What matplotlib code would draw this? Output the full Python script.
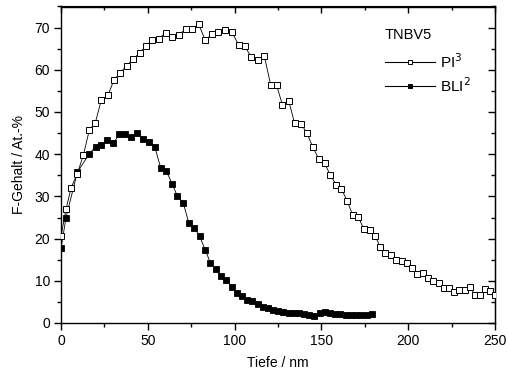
import matplotlib
matplotlib.use("Agg")
import matplotlib.pyplot as plt
from matplotlib.ticker import MultipleLocator
from matplotlib.lines import Line2D

plt.rcParams['font.family'] = ['Liberation Sans', 'DejaVu Sans']

# PI^3 series (open squares)
pi_x = [0, 2.9, 5.8, 9.4, 12.9, 16.3, 19.8, 23.2, 27.1, 30.5, 34.2, 37.8, 41.7, 45.3, 49, 52.6,
        56.3, 60.3, 64.1, 68, 71.8, 75.5, 79.3, 83.1, 86.8, 90.6, 94.5, 98.5, 102.3, 105.8, 109.5,
        113.3, 117.1, 120.8, 124.2, 127.5, 131.2, 134.6, 138.2, 141.7, 145, 148.5, 151.8, 155.1,
        158.5, 161.5, 164.9, 168, 171.3, 174.5, 177.8, 180.9, 183.8, 186.8, 190.2, 193.2, 196.2,
        199.1, 202.3, 205.2, 208.3, 211.5, 214.4, 217.5, 220.6, 223.5, 226.6, 229.4, 232.7, 235.6,
        238.5, 241.4, 244.4, 247.1, 250]
pi_y = [20.6, 27, 32, 35.4, 39.8, 45.7, 47.5, 52.8, 54, 57.6, 59.3, 61, 62.6, 64, 65.7, 67.1,
        67.4, 68.8, 67.8, 68.3, 69.7, 69.7, 70.8, 67, 68.4, 68.9, 69.5, 68.9, 65.9, 65.6, 63.1,
        62.3, 63.3, 56.4, 56.4, 51.7, 52.6, 47.3, 47.2, 45, 41.7, 38.9, 37.9, 35.1,
        32.8, 31.8, 28.9, 25.6, 25.1, 22.2, 22, 20.7, 18.1, 16.5, 16.1, 15, 14.8,
        14.2, 13, 11.5, 11.8, 10.6, 10, 9.4, 8.4, 8.2, 7.4, 7.8, 7.8, 8.6,
        6.6, 6.6, 8, 7.6, 6.6]

# BLI^2 series (filled squares)
bli_x = [0, 2.9, 9.4, 16.1, 20, 23.2, 26.7, 30.1, 33.6, 37, 40.5, 43.8, 47, 50.5, 54, 57.4,
         60.7, 64.1, 67, 70.4, 73.7, 76.8, 79.9, 83.1, 86, 89.3, 92.3, 95.2, 98.3, 101.4, 104.3,
         107.3, 110.2, 113.3, 116.1, 119, 122.1, 125.2, 128, 131.1, 134, 137.1, 140, 143, 146,
         149, 152, 155, 158, 161, 164, 167, 170, 173, 176, 179]
bli_y = [17.7, 25, 35.7, 40, 41.8, 42.2, 43.4, 42.6, 44.7, 44.9, 44, 45.1, 43.5, 42.9, 41.8, 36.8,
         36, 32.9, 30.1, 28.5, 23.6, 22.6, 20.5, 17.3, 14.3, 12.7, 11.1, 10.3, 8.6, 7.2, 6.4,
         5.5, 5.1, 4.4, 3.9, 3.5, 3.1, 2.9, 2.7, 2.4, 2.4, 2.3, 2.1, 1.9, 1.6,
         2.3, 2.5, 2.4, 2.2, 2.1, 2.0, 1.9, 1.9, 1.9, 2.0, 2.1]

fig = plt.figure(figsize=(5.09, 3.81), dpi=100)
ax = fig.add_axes([61/509, 1-323/381, (495-61)/509, (323-6.5)/381])

ax.plot(bli_x, bli_y, color='black', lw=0.6, marker='s', ms=4.6, mfc='black', mec='black',
        mew=0.6, zorder=3)
ax.plot(pi_x, pi_y, color='black', lw=0.6, marker='s', ms=4.6, mfc='white', mec='black',
        mew=0.7, zorder=4)

ax.set_xlim(0, 250)
ax.set_ylim(0, 75)
ax.xaxis.set_major_locator(MultipleLocator(50))
ax.xaxis.set_minor_locator(MultipleLocator(25))
ax.yaxis.set_major_locator(MultipleLocator(10))
ax.yaxis.set_minor_locator(MultipleLocator(5))

for s in ax.spines.values():
    s.set_linewidth(1.0)

ax.tick_params(which='both', direction='out', top=False, right=False, labelsize=10, width=1.0)
ax.tick_params(which='major', length=5, pad=3)
ax.tick_params(which='minor', length=3)

# mirrored inward ticks on top/right
axt = ax.secondary_xaxis('top')
axt.xaxis.set_major_locator(MultipleLocator(50))
axt.xaxis.set_minor_locator(MultipleLocator(25))
axt.tick_params(which='both', direction='in', labeltop=False, width=1.0)
axt.tick_params(which='major', length=5)
axt.tick_params(which='minor', length=3)
axr = ax.secondary_yaxis('right')
axr.yaxis.set_major_locator(MultipleLocator(10))
axr.yaxis.set_minor_locator(MultipleLocator(5))
axr.tick_params(which='both', direction='in', labelright=False, width=1.0)
axr.tick_params(which='major', length=5)
axr.tick_params(which='minor', length=3)

ax.set_xlabel('Tiefe / nm', fontsize=10, labelpad=6)
ax.set_ylabel('F-Gehalt / At.-%', fontsize=10, labelpad=6)

h1 = Line2D([], [], color='black', lw=0.8, marker='s', ms=3.2, mfc='white', mec='black', mew=0.7)
h2 = Line2D([], [], color='black', lw=0.8, marker='s', ms=3.2, mfc='black', mec='black', mew=0.7)
leg = ax.legend([h1, h2], ['PI$^3$', 'BLI$^2$'], title='TNBV5', loc='upper left',
                bbox_to_anchor=(0.715, 0.975), frameon=False, fontsize=11, title_fontsize=10.5,
                handlelength=3.3, handletextpad=0.3, labelspacing=0.35, alignment='left')
leg._legend_box.sep = 7

fig.savefig('out.png', dpi=100)
